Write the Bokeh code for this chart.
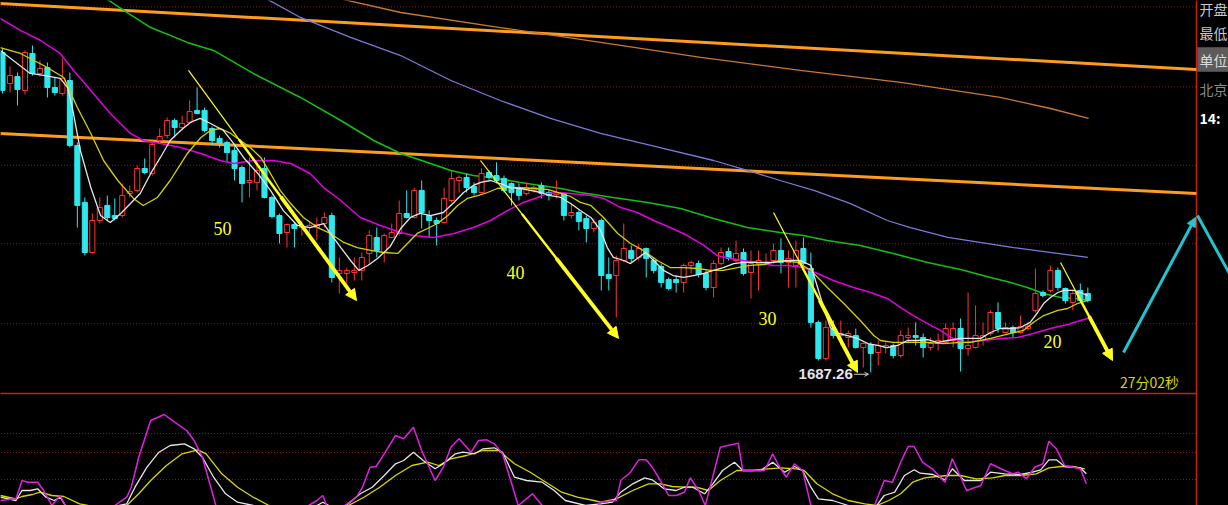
from bokeh.plotting import figure
from bokeh.models import Range1d, ColumnDataSource, Arrow, NormalHead, OpenHead, GlobalInlineStyleSheet
from bokeh.core.properties import value
from bokeh.embed import file_html
from bokeh.resources import INLINE

# ---------------- candle data (price) ----------------
opens = [1707.25, 1705.31, 1705.75, 1704.88, 1707.19, 1705.94, 1706.31, 1705.06, 1704.69, 1705.50,
         1701.44, 1697.88, 1694.75, 1696.75, 1697.69, 1697.06, 1697.06, 1698.44, 1698.63, 1700.00,
         1699.69, 1701.75, 1702.06, 1703.00, 1702.56, 1702.88, 1703.63, 1703.63, 1702.50, 1701.88,
         1701.63, 1701.13, 1700.06, 1699.13, 1699.13, 1700.00, 1698.19, 1697.06, 1696.00, 1696.50,
         1696.31, 1696.31, 1696.31, 1696.56, 1697.06, 1693.44, 1693.44, 1693.50, 1693.63, 1694.69,
         1695.69, 1694.75, 1695.69, 1695.94, 1697.19, 1696.94, 1698.63, 1697.06, 1696.75, 1696.63,
         1698.00, 1699.25, 1699.44, 1698.88, 1698.50, 1699.75, 1699.56, 1699.38, 1699.06, 1698.81,
         1698.44, 1698.63, 1698.94, 1698.50, 1698.38, 1698.44, 1697.06, 1697.25, 1696.88, 1696.25,
         1696.75, 1693.38, 1693.31, 1694.25, 1694.88, 1694.44, 1695.00, 1694.25, 1693.88, 1693.06,
         1693.06, 1692.88, 1693.94, 1694.06, 1693.44, 1692.56, 1694.06, 1694.81, 1694.25, 1694.75,
         1693.50, 1694.06, 1694.06, 1694.25, 1694.88, 1694.13, 1693.94, 1695.00, 1693.75, 1690.38,
         1688.13, 1690.00, 1689.56, 1689.44, 1689.56, 1688.81, 1689.00, 1688.50, 1688.81, 1688.94,
         1688.31, 1689.44, 1689.56, 1689.44, 1688.81, 1689.06, 1689.13, 1689.25, 1690.00, 1688.75,
         1688.81, 1689.25, 1689.69, 1691.00, 1689.75, 1690.06, 1689.75, 1690.00, 1691.13, 1692.25,
         1692.38, 1693.63, 1692.50, 1691.63, 1692.38, 1692.19]
highs = [1707.50, 1706.38, 1706.00, 1707.38, 1707.69, 1706.75, 1706.63, 1705.69, 1706.88, 1706.00,
         1701.63, 1698.19, 1697.19, 1698.19, 1698.31, 1698.13, 1699.06, 1698.94, 1700.19, 1700.63,
         1701.63, 1702.50, 1703.19, 1703.13, 1703.31, 1704.25, 1705.06, 1703.81, 1702.63, 1702.06,
         1701.75, 1701.44, 1700.19, 1700.69, 1700.50, 1700.69, 1698.31, 1697.19, 1696.56, 1696.63,
         1696.75, 1696.63, 1696.94, 1697.25, 1697.25, 1694.44, 1693.81, 1694.44, 1694.75, 1696.13,
         1696.31, 1695.94, 1696.56, 1698.00, 1698.63, 1698.81, 1699.25, 1697.38, 1696.94, 1698.81,
         1699.88, 1699.56, 1699.69, 1699.13, 1700.00, 1699.88, 1700.38, 1699.56, 1699.13, 1699.06,
         1699.13, 1698.94, 1699.13, 1698.63, 1699.25, 1698.50, 1697.81, 1697.38, 1697.06, 1696.88,
         1696.88, 1694.44, 1694.56, 1696.56, 1695.19, 1695.31, 1695.06, 1694.44, 1694.06, 1693.19,
         1693.31, 1694.06, 1694.25, 1694.25, 1693.63, 1694.25, 1695.06, 1695.06, 1695.50, 1695.00,
         1694.88, 1694.88, 1694.69, 1695.31, 1695.63, 1694.88, 1695.50, 1695.69, 1694.75, 1690.50,
         1690.50, 1690.50, 1690.50, 1689.88, 1690.00, 1689.13, 1689.13, 1689.25, 1689.13, 1689.06,
         1689.88, 1690.06, 1690.38, 1689.69, 1689.44, 1689.69, 1690.31, 1690.38, 1690.63, 1692.25,
         1691.44, 1690.38, 1691.13, 1691.63, 1690.38, 1690.19, 1690.81, 1690.38, 1693.75, 1692.38,
         1693.94, 1693.81, 1692.56, 1692.38, 1692.81, 1692.56]
lows = [1704.69, 1704.75, 1703.94, 1704.63, 1705.81, 1705.75, 1704.44, 1704.56, 1704.56, 1701.31,
        1696.31, 1694.56, 1694.69, 1696.56, 1696.69, 1696.75, 1696.94, 1698.19, 1698.50, 1699.63,
        1699.56, 1701.56, 1701.88, 1701.94, 1702.38, 1702.81, 1703.38, 1702.25, 1701.44, 1701.31,
        1700.38, 1699.25, 1697.88, 1698.19, 1698.63, 1698.13, 1696.88, 1695.31, 1695.06, 1695.06,
        1695.81, 1696.00, 1695.50, 1696.31, 1692.88, 1692.19, 1692.38, 1693.00, 1693.00, 1694.06,
        1694.44, 1694.13, 1695.63, 1695.81, 1696.88, 1696.88, 1696.25, 1695.69, 1695.19, 1696.56,
        1697.88, 1698.50, 1698.50, 1698.31, 1698.44, 1699.31, 1699.06, 1698.50, 1697.69, 1698.00,
        1698.31, 1698.50, 1698.13, 1698.00, 1698.13, 1696.75, 1696.88, 1696.13, 1695.38, 1696.00,
        1692.38, 1692.38, 1690.69, 1694.13, 1694.13, 1694.25, 1693.19, 1693.44, 1692.56, 1692.38,
        1692.25, 1692.25, 1693.44, 1693.19, 1692.38, 1691.94, 1693.94, 1694.25, 1694.13, 1693.31,
        1691.88, 1692.38, 1693.94, 1694.06, 1693.44, 1692.56, 1692.56, 1693.94, 1690.06, 1688.00,
        1688.00, 1689.38, 1688.94, 1688.81, 1688.75, 1687.56, 1687.26, 1687.69, 1688.44, 1688.13,
        1688.19, 1689.13, 1688.94, 1688.19, 1688.63, 1688.63, 1689.06, 1688.81, 1687.31, 1688.31,
        1688.75, 1688.94, 1689.56, 1689.75, 1689.69, 1689.38, 1689.69, 1689.88, 1691.00, 1691.94,
        1692.25, 1692.38, 1691.56, 1691.13, 1691.63, 1691.63]
closes = [1704.88, 1705.81, 1704.94, 1707.25, 1705.94, 1706.25, 1705.06, 1704.75, 1705.63, 1701.44,
          1697.69, 1694.75, 1696.75, 1697.56, 1696.94, 1696.88, 1698.31, 1698.56, 1700.00, 1699.75,
          1701.50, 1702.00, 1703.00, 1702.56, 1702.81, 1703.56, 1703.44, 1702.38, 1701.75, 1701.56,
          1701.00, 1700.00, 1699.06, 1699.25, 1699.88, 1698.19, 1697.00, 1695.94, 1696.50, 1696.25,
          1696.38, 1696.44, 1696.50, 1696.94, 1693.19, 1693.63, 1693.63, 1693.63, 1694.44, 1695.81,
          1694.88, 1695.81, 1696.00, 1697.19, 1696.94, 1698.63, 1697.25, 1696.75, 1696.56, 1698.13,
          1699.38, 1699.44, 1698.81, 1698.50, 1699.69, 1699.44, 1699.25, 1698.63, 1698.50, 1698.31,
          1698.81, 1698.81, 1698.44, 1698.31, 1698.50, 1697.06, 1697.25, 1696.69, 1696.25, 1696.63,
          1693.31, 1693.13, 1694.25, 1695.00, 1694.38, 1695.00, 1694.38, 1693.63, 1692.88, 1692.50,
          1692.88, 1693.94, 1694.13, 1693.38, 1692.56, 1694.06, 1694.75, 1694.38, 1694.69, 1693.44,
          1694.06, 1694.25, 1694.13, 1694.88, 1694.13, 1694.38, 1694.88, 1694.06, 1690.38, 1688.13,
          1690.06, 1689.56, 1689.69, 1689.69, 1688.81, 1689.06, 1688.44, 1688.94, 1688.94, 1688.31,
          1689.56, 1689.56, 1689.44, 1688.81, 1689.06, 1689.25, 1690.00, 1690.00, 1688.75, 1688.94,
          1689.56, 1689.56, 1691.00, 1690.00, 1690.06, 1689.75, 1690.13, 1690.13, 1692.19, 1692.06,
          1693.63, 1692.56, 1691.75, 1692.19, 1691.75, 1691.75]

# ---------------- moving-average lines (bar index, price) ----------------
ma5_x = [-0.3, 3.7, 5.7, 7.7, 8.7, 9.4, 10.4, 11.8, 13.1, 14.4, 15.8, 17.1, 18.4, 19.8, 21.1, 22.4, 23.8, 25.1,
         26.4, 27.8, 29.5, 30.9, 32.2, 34.1, 35.8, 37.5, 39.4, 41.1, 42.9, 43.8, 45.2, 46.5, 47.6, 48.8, 50.1,
         51.8, 53.2, 54.5, 55.8, 57.2, 58.9, 60.3, 61.6, 62.9, 63.9, 65.2, 66.5, 67.9, 69.2, 70.5, 71.9, 73.2,
         74.6, 75.9, 77.2, 78.6, 79.9, 80.8, 81.6, 83.0, 83.9, 84.8, 85.9, 87.0, 88.3, 89.6, 91.0, 92.3, 93.7,
         95.0, 96.3, 97.7, 99.0, 100.9, 103.0, 104.9, 106.6, 108.0, 108.9, 109.7, 110.6, 111.6, 112.9, 114.2,
         115.6, 116.9, 118.2, 119.6, 120.9, 122.2, 123.6, 124.9, 126.3, 128.0, 128.9, 130.7, 132.0, 133.3,
         134.7, 136.0, 137.3, 138.3, 139.1, 140.0, 141.0, 141.8, 143.1, 144.0, 145.0]
ma5_y = [1707.38, 1705.94, 1705.81, 1705.63, 1705.06, 1703.63, 1701.13, 1698.81, 1697.06, 1696.63, 1697.19,
         1697.81, 1698.44, 1699.69, 1700.69, 1701.75, 1702.38, 1702.88, 1703.13, 1702.81, 1702.38, 1701.56,
         1700.69, 1699.69, 1698.63, 1697.38, 1696.44, 1696.31, 1696.56, 1695.94, 1695.06, 1694.25, 1693.63,
         1693.94, 1694.38, 1695.13, 1696.25, 1696.94, 1697.19, 1697.06, 1697.25, 1697.88, 1698.50, 1698.94,
         1699.13, 1699.25, 1699.06, 1698.81, 1698.75, 1698.63, 1698.50, 1698.31, 1698.19, 1697.81, 1697.38,
         1696.94, 1696.13, 1695.06, 1694.44, 1694.25, 1694.06, 1694.38, 1694.75, 1694.25, 1693.63, 1693.31,
         1693.19, 1693.31, 1693.44, 1693.63, 1693.81, 1694.06, 1694.13, 1694.13, 1694.13, 1694.25, 1694.25,
         1693.94, 1692.56, 1691.31, 1690.06, 1689.69, 1689.56, 1689.38, 1689.06, 1688.94, 1688.81, 1688.94,
         1689.25, 1689.25, 1689.31, 1689.13, 1689.25, 1689.38, 1689.38, 1689.38, 1689.75, 1690.00, 1690.00,
         1690.06, 1690.38, 1691.00, 1691.56, 1691.94, 1692.25, 1692.38, 1692.38, 1692.25, 1692.06]
ma10_x = [-0.3, 2.4, 5.5, 8.2, 10.0, 11.8, 13.5, 15.4, 17.5, 18.8, 20.7, 22.4, 24.7, 26.5, 27.8, 29.1, 30.5,
          31.8, 33.1, 34.5, 35.8, 37.1, 38.5, 40.2, 42.1, 43.8, 45.6, 47.4, 49.2, 50.9, 52.8, 54.1, 55.4, 56.8,
          58.1, 59.5, 60.8, 62.1, 63.5, 64.8, 66.1, 67.5, 69.2, 70.9, 72.8, 74.6, 75.9, 77.2, 78.6, 80.3, 82.2,
          83.9, 85.6, 87.5, 89.2, 91.0, 92.9, 94.6, 96.3, 98.2, 99.9, 101.7, 103.9, 106.2, 108.0, 110.2, 112.4,
          114.6, 116.4, 117.3, 119.0, 121.3, 123.6, 125.7, 128.0, 129.3, 132.0, 134.7, 136.4, 137.7, 139.1,
          141.0, 142.3, 143.6, 145.0]
ma10_y = [1707.56, 1707.19, 1706.44, 1705.69, 1703.81, 1702.19, 1700.50, 1699.25, 1698.13, 1697.69, 1698.19,
          1699.25, 1700.94, 1701.94, 1702.38, 1702.50, 1702.19, 1701.75, 1701.31, 1700.69, 1699.69, 1698.63,
          1697.81, 1696.94, 1696.31, 1695.94, 1695.38, 1695.06, 1694.88, 1694.75, 1694.69, 1695.31, 1695.94,
          1696.25, 1696.56, 1697.06, 1697.69, 1698.13, 1698.31, 1698.50, 1698.75, 1698.81, 1698.81, 1698.75,
          1698.69, 1698.44, 1698.25, 1697.88, 1697.69, 1696.94, 1695.94, 1695.31, 1694.88, 1694.25, 1693.81,
          1693.81, 1693.75, 1693.63, 1693.63, 1693.81, 1693.94, 1694.00, 1694.25, 1694.13, 1693.63, 1692.56,
          1691.56, 1690.50, 1689.56, 1689.25, 1689.13, 1689.13, 1689.13, 1689.06, 1689.13, 1689.13, 1689.38,
          1689.69, 1689.88, 1690.38, 1690.81, 1691.13, 1691.25, 1691.56, 1691.75]
ma20_x = [-0.3, 2.4, 5.1, 7.7, 9.5, 11.8, 14.4, 17.1, 18.8, 21.1, 23.8, 26.5, 29.1, 30.9, 33.5, 36.2, 38.5,
          41.1, 42.9, 45.2, 47.8, 50.5, 53.2, 54.9, 57.6, 60.3, 62.9, 65.2, 67.5, 69.6, 71.5, 72.8, 74.6, 75.9,
          78.6, 80.3, 82.6, 84.8, 87.0, 89.2, 91.5, 93.7, 95.5, 97.3, 99.0, 100.9, 103.0, 104.9, 107.0, 108.9,
          111.0, 113.7, 116.0, 118.2, 120.0, 121.7, 123.6, 125.3, 126.7, 128.4, 131.1, 133.3, 135.6, 137.7,
          140.0, 142.3, 144.0, 145.0]
ma20_y = [1709.38, 1708.63, 1708.00, 1707.19, 1706.13, 1704.88, 1703.44, 1702.19, 1701.75, 1701.56, 1701.31,
          1700.94, 1700.50, 1700.31, 1700.50, 1700.50, 1700.31, 1699.69, 1698.81, 1698.00, 1696.94, 1696.44,
          1696.00, 1695.81, 1695.69, 1695.94, 1696.31, 1696.75, 1697.38, 1697.88, 1698.19, 1698.44, 1698.50,
          1698.44, 1698.31, 1698.13, 1697.56, 1697.25, 1696.75, 1696.31, 1695.81, 1695.19, 1694.56, 1694.38,
          1694.25, 1694.13, 1693.94, 1693.94, 1693.81, 1693.44, 1693.00, 1692.56, 1692.25, 1691.88, 1691.31,
          1690.81, 1690.31, 1689.88, 1689.44, 1689.13, 1689.25, 1689.38, 1689.44, 1689.69, 1690.00, 1690.25,
          1690.50, 1690.63]
ma60_x = [13.8, 16.2, 19.8, 24.7, 28.2, 33.5, 39.8, 45.2, 49.6, 53.2, 57.2, 59.9, 62.9, 66.1, 69.2, 71.9, 74.6,
          77.2, 81.6, 86.2, 90.6, 95.0, 99.5, 103.9, 107.0, 110.2, 114.6, 119.0, 123.6, 128.0, 132.0, 134.7,
          137.3, 139.1, 141.4, 143.6, 145.0]
ma60_y = [1710.63, 1709.88, 1708.81, 1707.88, 1707.38, 1705.94, 1704.44, 1703.00, 1701.75, 1700.94, 1700.31,
          1699.88, 1699.56, 1699.38, 1699.13, 1698.94, 1698.75, 1698.50, 1698.19, 1697.88, 1697.50, 1696.88,
          1696.31, 1696.00, 1695.81, 1695.50, 1695.19, 1694.69, 1694.13, 1693.69, 1693.19, 1692.88, 1692.50,
          1692.19, 1691.94, 1691.88, 1691.75]
ma120_x = [34.7, 39.8, 46.5, 53.2, 59.9, 66.5, 73.2, 79.9, 86.6, 95.0, 99.5, 103.9, 108.4, 113.3, 118.2, 121.3,
           126.3, 135.1, 145.0]
ma120_y = [1710.75, 1709.44, 1708.19, 1707.06, 1705.50, 1704.25, 1703.13, 1702.19, 1701.44, 1700.50, 1699.88,
           1699.25, 1698.63, 1697.81, 1696.75, 1696.31, 1695.69, 1695.06, 1694.44]
ma250_x = [43.8, 53.2, 66.5, 79.9, 93.3, 106.6, 120.0, 133.3, 140.0, 145.1]
ma250_y = [1710.75, 1709.75, 1708.81, 1707.88, 1706.94, 1706.13, 1705.38, 1704.44, 1703.75, 1703.13]

# hand-drawn trend lines (bar index, price)
trendA_x = [-0.3, 159.5]
trendA_y = [1710.31, 1706.19]
trendB_x = [-0.3, 159.5]
trendB_y = [1702.19, 1698.44]

# ---------------- lower indicator panel (K / D / J) ----------------
j_x = [-0.3, 1.8, 2.6, 3.4, 4.7, 5.5, 6.6, 7.7, 8.4, 9.8, 13.1, 15.0, 16.6, 17.2, 18.2, 19.8, 21.6, 23.0, 24.6,
       25.6, 26.7, 27.7, 28.5, 31.8, 38.5, 40.9, 42.0, 42.8, 43.3, 44.5, 45.7, 47.3, 48.1, 49.1, 49.9, 51.0, 52.5,
       53.6, 54.9, 56.0, 57.0, 57.8, 58.9, 59.9, 61.0, 62.6, 63.6, 64.7, 65.7, 66.8, 67.9, 68.9, 70.8, 72.1, 74.6,
       78.6, 79.9, 82.0, 82.6, 83.9, 85.0, 86.0, 86.8, 87.9, 89.0, 90.0, 91.1, 91.9, 93.0, 93.9, 95.9, 97.5, 98.3,
       98.9, 100.2, 101.8, 102.9, 103.7, 104.7, 105.8, 106.9, 108.0, 110.6, 114.6, 116.5, 117.8, 118.9, 120.0,
       121.0, 121.8, 122.9, 124.2, 125.9, 126.9, 128.8, 130.7, 132.0, 133.9, 135.0, 135.7, 136.8, 137.9, 139.0,
       139.8, 140.8, 141.9, 144.0, 144.8]
j_y = [5, 6.7, 25, 23.3, 23.3, 15, 0, 10, 0, -12, -12, 0, 8.3, 18.3, 48.3, 85, 91, 83.3, 75, 65, 48.3, 21.7, 0,
       -12, -12, 0, 5, 10, 0, -8, 0, 8.3, 18.3, 38.3, 39, 51.7, 70, 66.7, 78.3, 55, 38.3, 25, 38.3, 58.3, 66.7,
       53.3, 65, 65.7, 61.7, 51.7, 25, 0, 11.7, 0, -12, -10, 3.3, 5, 25, 33.3, 45.7, 45.7, 38.3, 25, 10, 10, 13.3,
       27.7, 15, 0, 58.3, 61, 62.3, 35, 35, 35, 51.7, 40, 28.3, 41.7, 35, 0, -12, -12, 0, 25, 23.3, 43.3, 59, 59,
       43.3, 36.7, 23.3, 46.7, 15, 20, 41.7, 35, 31.7, 33.3, 26.7, 38.3, 41.7, 64.3, 56.7, 40, 36.7, 21.7]
k_x = [-0.3, 1.8, 2.6, 3.7, 4.7, 5.8, 6.9, 7.7, 8.4, 11.8, 15.6, 16.6, 17.7, 19.3, 20.9, 22.4, 24.3, 25.6, 26.7,
       28.2, 29.8, 31.4, 33.5, 37.8, 42.0, 42.8, 43.6, 44.9, 46.2, 47.8, 49.4, 51.0, 52.5, 53.6, 54.9, 56.2, 57.8,
       58.9, 60.5, 61.5, 63.1, 64.2, 65.7, 66.8, 68.4, 70.0, 72.1, 73.7, 75.2, 77.9, 79.9, 81.5, 82.6, 84.2, 85.8,
       86.8, 88.4, 90.0, 91.1, 92.2, 93.8, 94.9, 96.2, 97.8, 98.9, 101.3, 102.9, 104.5, 105.8, 106.9, 108.0,
       109.0, 110.9, 113.0, 114.9, 116.8, 117.8, 119.2, 120.5, 121.8, 122.6, 124.3, 125.9, 126.9, 128.5, 130.7,
       132.0, 133.9, 136.0, 137.6, 138.7, 139.8, 140.8, 141.9, 144.0, 144.8]
k_y = [8.3, 5, 15, 15, 16.7, 8.3, 5, 8.3, 0, -10, 0, 1.7, 18.3, 38.3, 53.3, 60, 61.7, 56.7, 48.3, 28.3, 11.7,
       3.3, 0, -8, 0, 3.3, 0, -4, 1.7, 11.7, 18.3, 30, 41.7, 45, 53.3, 45, 36.7, 41.7, 51.7, 53.3, 51.7, 56.7,
       57.7, 53.3, 28.3, 25, 23.3, 15, 5, 0, 1.7, 3.3, 13.3, 21.7, 27.7, 25.7, 16.7, 15, 18.3, 18.3, 11.7, 21.7,
       35, 43.3, 35, 35, 43.3, 33.3, 39, 35, 18.3, 6.7, 5, 0, -4, 0, 10, 13.3, 30, 35.7, 32.3, 31, 25.7, 36.7, 25,
       25, 33.3, 31.7, 31, 33.3, 35.7, 45.7, 45.7, 39, 37.7, 31.7]
d_x = [-0.3, 1.8, 2.6, 4.0, 5.0, 6.6, 8.2, 10.3, 11.4, 13.8, 16.6, 18.2, 19.8, 21.9, 24.0, 26.1, 27.2, 29.3,
       31.4, 33.5, 35.6, 39.8, 43.8, 46.2, 48.3, 50.4, 52.5, 54.7, 56.8, 58.3, 59.9, 62.0, 64.2, 66.3, 68.4, 70.5,
       72.6, 74.7, 76.8, 79.0, 79.9, 82.0, 84.2, 86.3, 87.9, 89.5, 91.1, 92.7, 94.3, 95.9, 98.1, 100.2, 102.3,
       103.9, 106.1, 107.1, 108.8, 110.9, 113.0, 115.2, 116.8, 118.4, 120.0, 121.6, 123.2, 124.8, 126.4, 128.0,
       130.1, 132.3, 133.9, 136.0, 138.1, 139.8, 141.4, 143.0, 144.6]
d_y = [10, 6.7, 9, 11, 13.3, 10, 9, 1.7, 0, -6, 0, 11.7, 25, 40, 51.7, 55.7, 51.7, 31.7, 18.3, 8.3, 0, -6, -6,
       0, 8.3, 18.3, 30, 40, 43.3, 40, 46.7, 50, 55, 55, 41.7, 33.3, 23.3, 13.3, 8.3, 5, 3.3, 6.7, 15, 21.7, 21.7,
       19, 18.3, 18.3, 15, 25, 35, 35, 36.7, 37.7, 36.7, 35, 21.7, 11.7, 5, 1.7, 0, 5, 11.7, 23.3, 27.7, 29, 30,
       30, 26.7, 27.7, 30, 30, 31.7, 37.7, 39, 39, 36.7]

# ---------------- annotations ----------------
price_grid = [1710.1, 1705.1, 1700.2, 1695.3, 1690.3]
ind_grid = [72, 53, 26]
arrow_x0 = [24.85, 63.86, 103.01, 141.35]
arrow_y0 = [1706.13, 1700.50, 1697.25, 1694.13]
arrow_x1 = [47.30, 82.30, 114.23, 148.30]
arrow_y1 = [1691.75, 1689.38, 1687.25, 1688.00]
tag_x = [29.39, 68.54, 102.20, 140.28]
tag_y = [1696.25, 1693.50, 1690.63, 1689.19]
tag_text = ["50", "40", "30", "20"]
cyan_x = [149.77, 159.39, 159.65, 164.06]
cyan_y = [1688.50, 1696.94, 1697.06, 1693.31]
side_text = ["开盘", "最低", "单位", "北京", "14:"]
side_y = [1709.94, 1708.44, 1706.81, 1704.94, 1703.13]
side_color = ["#c8c8c8", "#c8c8c8", "#dcdcdc", "#8a8a8a", "#ffffff"]
side_style = ["normal", "normal", "normal", "normal", "bold"]

DIV = 159.52          # x of the right-hand panel divider
SEP_PRICE = 1685.94   # main / indicator separator
CYAN = "#2ee8ee"
RED = "#ff3232"
YEL = "#ffff20"

p = figure(width=1228, height=505,
           x_range=Range1d(-0.2672, 163.794), y_range=Range1d(1678.9375, 1710.5),
           output_backend="svg", toolbar_location=None,
           x_axis_location=None, y_axis_location=None, min_border=0,
           background_fill_color="#000000", border_fill_color="#000000",
           outline_line_color=None)
p.grid.visible = False
p.extra_y_ranges = {"ind": Range1d(0, 505)}
p.stylesheets = [GlobalInlineStyleSheet(css="html, body { background-color: #000000; }")]

# grid lines
p.segment(x0=[-1] * len(price_grid), x1=[DIV] * len(price_grid), y0=price_grid, y1=price_grid,
          line_color="#8c1414", line_width=1, line_dash="1 2")
p.segment(x0=[-1] * len(ind_grid), x1=[DIV] * len(ind_grid), y0=ind_grid, y1=ind_grid,
          line_color="#8c1414", line_width=1, line_dash="1 2", y_range_name="ind")
p.segment(x0=[-1], x1=[DIV], y0=[SEP_PRICE], y1=[SEP_PRICE], line_color="#c81e1e", line_width=1.5)
p.segment(x0=[DIV], x1=[DIV], y0=[1670], y1=[1720], line_color="#c81e1e", line_width=1.5)

# right info panel
p.quad(left=[DIV + 0.1], right=[166], top=[1707.56], bottom=[1706.06], fill_color="#5c5c5c", line_color=None)
p.segment(x0=[DIV, DIV], x1=[166, 166], y0=[1707.56, 1706.06], y1=[1707.56, 1706.06],
          line_color="#b01c1c", line_width=1)
p.text(x=[159.93] * len(side_text), y=side_y, text=side_text, text_color=side_color,
       text_font=value("Noto Sans CJK SC"), text_font_size="14px", text_font_style=side_style,
       text_align="left", text_baseline="middle")

# trend lines and long MAs
p.line(trendA_x, trendA_y, line_color="#ff9c1e", line_width=3)
p.line(trendB_x, trendB_y, line_color="#ff9c1e", line_width=3)
p.line(ma250_x, ma250_y, line_color="#c87830", line_width=1.3)
p.line(ma120_x, ma120_y, line_color="#7a7ad8", line_width=1.3)
p.line(ma60_x, ma60_y, line_color="#12c012", line_width=1.5)

# candles
N = len(opens)
up = [i for i in range(N) if closes[i] >= opens[i]]
dn = [i for i in range(N) if closes[i] < opens[i]]


def csrc(ids):
    top = [max(opens[i], closes[i]) for i in ids]
    bot = [min(opens[i], closes[i]) for i in ids]
    top = [max(t, b + 0.06) for t, b in zip(top, bot)]
    return ColumnDataSource(dict(x=ids, h=[highs[i] for i in ids], l=[lows[i] for i in ids],
                                 top=top, bot=bot))


su, sd = csrc(up), csrc(dn)
p.segment(x0="x", x1="x", y0="h", y1="l", source=su, line_color=RED, line_width=1)
p.vbar(x="x", width=0.68, top="top", bottom="bot", source=su, fill_color="#000000", line_color=RED, line_width=1)
p.segment(x0="x", x1="x", y0="h", y1="l", source=sd, line_color=CYAN, line_width=1)
p.vbar(x="x", width=0.68, top="top", bottom="bot", source=sd, fill_color=CYAN, line_color=CYAN, line_width=1)

# short MAs
p.line(ma20_x, ma20_y, line_color="#e000e0", line_width=1.5)
p.line(ma10_x, ma10_y, line_color="#d2d200", line_width=1.3)
p.line(ma5_x, ma5_y, line_color="#e6e6e6", line_width=1.3)

# indicator lines
p.line(d_x, d_y, line_color="#d8d800", line_width=1.3, y_range_name="ind")
p.line(k_x, k_y, line_color="#e6e6e6", line_width=1.3, y_range_name="ind")
p.line(j_x, j_y, line_color="#e020e0", line_width=1.5, y_range_name="ind")

# yellow tapered arrows
for x0, y0, x1, y1 in zip(arrow_x0, arrow_y0, arrow_x1, arrow_y1):
    dx, dy = x1 - x0, y1 - y0
    p.segment(x0=[x0], y0=[y0], x1=[x0 + dx * 0.95], y1=[y0 + dy * 0.95], line_color=YEL, line_width=1.2)
    p.segment(x0=[x0 + dx * 0.3], y0=[y0 + dy * 0.3], x1=[x0 + dx * 0.95], y1=[y0 + dy * 0.95],
              line_color=YEL, line_width=2.4)
    p.add_layout(Arrow(end=NormalHead(size=11, fill_color=YEL, line_color=YEL, line_width=1),
                       x_start=x0 + dx * 0.55, y_start=y0 + dy * 0.55, x_end=x1, y_end=y1,
                       line_color=YEL, line_width=3.8))

p.text(x=tag_x, y=tag_y, text=tag_text, text_color=YEL, text_font=value("Liberation Serif"),
       text_font_size="18px", text_align="center", text_baseline="middle")

# cyan projection arrow
p.add_layout(Arrow(end=NormalHead(size=9, fill_color="#22c4d0", line_color="#22c4d0"),
                   x_start=cyan_x[0], y_start=cyan_y[0], x_end=cyan_x[1], y_end=cyan_y[1],
                   line_color="#22c4d0", line_width=3))
p.line(cyan_x[2:], cyan_y[2:], line_color="#22c4d0", line_width=3)

# low marker
low_i = min(range(N), key=lambda i: lows[i])
low_v = lows[low_i]
p.text(x=[low_i - 2.4], y=[low_v - 0.12], text=["%.2f" % low_v], text_color="#e4e4ee",
       text_font=value("Liberation Sans"), text_font_size="15px", text_font_style="bold",
       text_align="right", text_baseline="middle")
p.add_layout(Arrow(end=OpenHead(size=4, line_color="#d0d0d0", line_width=1),
                   x_start=low_i - 2.2, y_start=low_v - 0.12, x_end=low_i - 0.3, y_end=low_v - 0.12,
                   line_color="#d0d0d0", line_width=1))

# countdown
p.text(x=[153.24], y=[1686.63], text=["27分02秒"], text_color="#d6d600",
       text_font=value("Noto Sans CJK SC"), text_font_size="14px", text_align="center", text_baseline="middle")

open("out.html", "w", encoding="utf-8").write(file_html(p, INLINE))
